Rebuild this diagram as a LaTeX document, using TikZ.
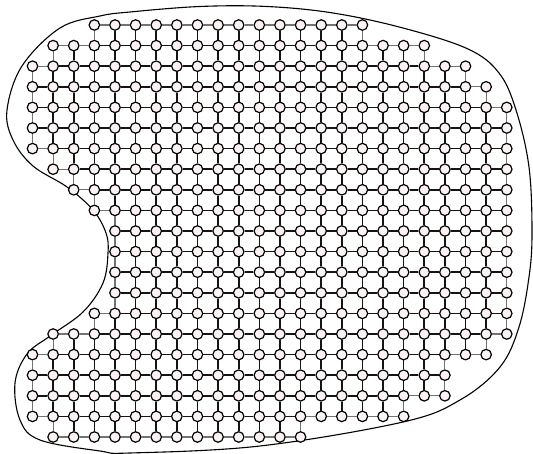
\documentclass[tikz,border=0pt]{standalone}
\begin{document}
\begin{tikzpicture}[x=1pt,y=-1pt,
  vtx/.style={circle,draw=black,line width=1.2pt,fill={rgb,255:red,251;green,243;blue,242},inner sep=0pt,minimum size=10.5pt},
  iedge/.style={line width=1.6pt,draw=black!92},
  bedge/.style={line width=1.1pt,draw=black!55},
  blob/.style={line width=1.1pt,draw=black}]
\useasboundingbox (0,0) rectangle (533,454);
% outline
\draw[blob] plot[smooth cycle,tension=0.6] coordinates {
 (130,453) (260,446) (403,422) (460,400) (500,367) (519,327) (529,277)
 (532,233) (529,167) (516,110) (499,73) (468,49) (403,28) (333,13)
 (267,6.5) (200,6.5) (130,12) (100,16) (60,28) (22,66) (7,110) (13,140)
 (33,166) (67,187) (93,210) (106,233) (108,253) (103,283) (83,312)
 (50,336) (27,354) (15,383) (20,420) (40,440) (100,451)};
\def\rows{0/3/16,1/1/19,2/0/21,3/0/22,4/0/23,5/0/23,6/0/23,7/1/23,8/2/23,9/3/23,10/4/23,11/4/23,12/4/23,13/4/23,14/3/23,15/1/23,16/0/22,17/0/20,18/0/20,19/0/18,20/1/13}
\expandafter\def\csname lo-1\endcsname{100}
\expandafter\def\csname hi-1\endcsname{-100}
\expandafter\def\csname lo21\endcsname{100}
\expandafter\def\csname hi21\endcsname{-100}
\foreach \j/\a/\b in \rows {
  \expandafter\xdef\csname lo\j\endcsname{\a}
  \expandafter\xdef\csname hi\j\endcsname{\b}
}
% nodes
\foreach \j/\a/\b in \rows {
  \foreach \i in {\a,...,\b} {
    \node[vtx] (n-\i-\j) at ({32.5+20.62*\i},{25+20.6*\j}) {};
  }
}
% horizontal edges
\foreach \j/\a/\b in \rows {
  \pgfmathtruncatemacro\jm{\j-1}
  \pgfmathtruncatemacro\jp{\j+1}
  \edef\loU{\csname lo\jm\endcsname}\edef\hiU{\csname hi\jm\endcsname}
  \edef\loD{\csname lo\jp\endcsname}\edef\hiD{\csname hi\jp\endcsname}
  \pgfmathtruncatemacro\bm{\b-1}
  \foreach \i in {\a,...,\bm} {
    \pgfmathtruncatemacro\ip{\i+1}
    \def\sty{iedge}
    \ifnum\loU>\i\relax\def\sty{bedge}\fi
    \ifnum\hiU<\ip\relax\def\sty{bedge}\fi
    \ifnum\loD>\i\relax\def\sty{bedge}\fi
    \ifnum\hiD<\ip\relax\def\sty{bedge}\fi
    \draw[\sty] (n-\i-\j) -- (n-\ip-\j);
  }
}
% vertical edges
\foreach \j/\a/\b in \rows {
  \pgfmathtruncatemacro\jp{\j+1}
  \edef\loD{\csname lo\jp\endcsname}\edef\hiD{\csname hi\jp\endcsname}
  \pgfmathtruncatemacro\vlo{max(\a,\loD)}
  \pgfmathtruncatemacro\vhi{min(\b,\hiD)}
  \ifnum\vlo>\vhi\relax\else
  \foreach \i in {\vlo,...,\vhi} {
    \def\sty{iedge}
    \ifnum\i=\vlo\relax\def\sty{bedge}\fi
    \ifnum\i=\vhi\relax\def\sty{bedge}\fi
    \draw[\sty] (n-\i-\j) -- (n-\i-\jp);
  }
  \fi
}
\end{tikzpicture}
\end{document}
